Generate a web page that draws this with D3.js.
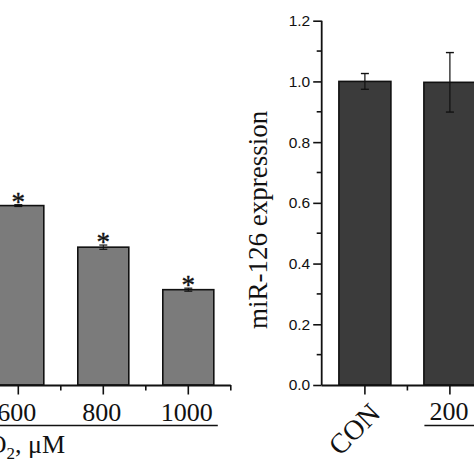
<!DOCTYPE html>
<html><head><meta charset="utf-8">
<script src="https://cdn.jsdelivr.net/npm/d3@7"></script>
<style>html,body{margin:0;padding:0;background:#fff;}svg{display:block;}</style>
</head><body>
<script>
// ---- data ----
const leftCats = ["600", "800", "1000"];
const leftValues = [59.1, 45.4, 31.4];
const leftErrors = [0.3, 0.7, 0.5];
const leftSig = ["*", "*", "*"];
const rightCats = ["CON", "200"];
const rightValues = [1.0, 0.997];
const rightErrors = [0.026, 0.098];
const rightTicks = [0.0, 0.2, 0.4, 0.6, 0.8, 1.0, 1.2];
const rightMinorTicks = [0.1, 0.3, 0.5, 0.7, 0.9, 1.1];
const leftGroupLabel = ["H", "2", "O", "2", ", μM"];
const rightYTitle = "miR-126 expression";

const W = 474, H = 474;
const serif = "'Liberation Serif','Times New Roman',serif";
const sans = "'Liberation Sans',Arial,sans-serif";

const svg = d3.select("body").append("svg").attr("width", W).attr("height", H);

const y0 = 385, yTop = 20.7;
const yLeft = d3.scaleLinear().domain([0, 120]).range([y0, yTop]);
const yRight = d3.scaleLinear().domain([0, 1.2]).range([y0, yTop]);

const step = 85;
const xLeft = d3.scaleBand().domain(leftCats).range([-24.2, -24.2 + step * leftCats.length]);
const xRight = d3.scaleBand().domain(rightCats).range([322.4, 322.4 + step * rightCats.length]);
const barW = 51;

// ---------- LEFT PANEL ----------
const gL = svg.append("g");
gL.selectAll("rect").data(leftCats).join("rect")
  .attr("x", d => xLeft(d) + xLeft.bandwidth() / 2 - barW / 2)
  .attr("width", barW)
  .attr("y", (d, i) => yLeft(leftValues[i]))
  .attr("height", (d, i) => y0 - yLeft(leftValues[i]))
  .attr("fill", "#7b7b7b").attr("stroke", "#111").attr("stroke-width", 1.6);
// error bars
leftCats.forEach((d, i) => {
  const cx = xLeft(d) + xLeft.bandwidth() / 2;
  const t = yLeft(leftValues[i] + leftErrors[i]);
  const b = yLeft(leftValues[i] - leftErrors[i]);
  gL.append("line").attr("x1", cx).attr("x2", cx).attr("y1", t).attr("y2", b).attr("stroke", "#111").attr("stroke-width", 1);
  gL.append("line").attr("x1", cx - 4).attr("x2", cx + 4).attr("y1", t).attr("y2", t).attr("stroke", "#111").attr("stroke-width", 1.2);
  gL.append("line").attr("x1", cx - 4).attr("x2", cx + 4).attr("y1", b).attr("y2", b).attr("stroke", "#111").attr("stroke-width", 1.2);
  gL.append("text").attr("x", cx).attr("y", t + 6)
    .attr("text-anchor", "middle").attr("font-family", serif).attr("font-size", 27)
    .attr("fill", "#111").attr("stroke", "#111").attr("stroke-width", 0.4).text(leftSig[i]);
});
// axis
const axLeft = xLeft.range();
gL.append("line").attr("x1", axLeft[0] - 40).attr("x2", axLeft[1]).attr("y1", y0 + 0.5).attr("y2", y0 + 0.5)
  .attr("stroke", "#111").attr("stroke-width", 1.8);
leftCats.forEach(d => {
  const cx = xLeft(d) + xLeft.bandwidth() / 2;
  gL.append("line").attr("x1", cx).attr("x2", cx).attr("y1", y0).attr("y2", y0 + 9.5).attr("stroke", "#111").attr("stroke-width", 1.6);
  const bx = xLeft(d) + xLeft.bandwidth();
  gL.append("line").attr("x1", bx).attr("x2", bx).attr("y1", y0).attr("y2", y0 + 5.5).attr("stroke", "#111").attr("stroke-width", 1.6);
  gL.append("text").attr("x", cx - 1.5).attr("y", 421).attr("text-anchor", "middle")
    .attr("font-family", serif).attr("font-size", 26).attr("fill", "#111").text(d);
});
// group line
gL.append("line").attr("x1", -10).attr("x2", xLeft("1000") + xLeft.bandwidth() / 2 + barW / 2 + 4)
  .attr("y1", 425.5).attr("y2", 425.5).attr("stroke", "#111").attr("stroke-width", 1.6);
const glab = gL.append("text").attr("x", 65).attr("y", 453).attr("text-anchor", "end")
  .attr("font-family", serif).attr("font-size", 26).attr("fill", "#111");
leftGroupLabel.forEach((s, i) => {
  const sub = (s === "2");
  glab.append("tspan").attr("font-size", sub ? 17 : 26)
    .attr("dy", sub ? 6 : (i > 0 ? -6 : 0)).text(s);
});

// ---------- RIGHT PANEL ----------
const gR = svg.append("g");
gR.selectAll("rect").data(rightCats).join("rect")
  .attr("x", d => xRight(d) + xRight.bandwidth() / 2 - barW / 2 - 0.5)
  .attr("width", barW + 1)
  .attr("y", (d, i) => yRight(rightValues[i]))
  .attr("height", (d, i) => y0 - yRight(rightValues[i]))
  .attr("fill", "#3b3b3b").attr("stroke", "#111").attr("stroke-width", 1.6);
rightCats.forEach((d, i) => {
  const cx = xRight(d) + xRight.bandwidth() / 2;
  const t = yRight(rightValues[i] + rightErrors[i]);
  const b = yRight(rightValues[i] - rightErrors[i]);
  gR.append("line").attr("x1", cx).attr("x2", cx).attr("y1", t).attr("y2", b).attr("stroke", "#111").attr("stroke-width", 1.2);
  gR.append("line").attr("x1", cx - 4).attr("x2", cx + 4).attr("y1", t).attr("y2", t).attr("stroke", "#111").attr("stroke-width", 1.4);
  gR.append("line").attr("x1", cx - 4).attr("x2", cx + 4).attr("y1", b).attr("y2", b).attr("stroke", "#111").attr("stroke-width", 1.4);
});
// y axis
const axisX = xRight.range()[0] - 0.7;
const yAx = gR.append("g").attr("transform", `translate(${axisX},0)`)
  .call(d3.axisLeft(yRight).tickValues(rightTicks).tickFormat(d3.format(".1f")).tickSize(8.5).tickPadding(3));
yAx.select(".domain").attr("stroke", "#111").attr("stroke-width", 1.8).attr("d", `M0,${y0}V${yTop}`);
yAx.selectAll(".tick line").attr("stroke", "#111").attr("stroke-width", 1.6);
yAx.selectAll(".tick text").attr("font-family", sans).attr("font-size", 15.5).attr("fill", "#111");
gR.selectAll(".minor").data(rightMinorTicks).join("line").attr("class", "minor")
  .attr("x1", axisX - 5).attr("x2", axisX).attr("y1", d => yRight(d)).attr("y2", d => yRight(d))
  .attr("stroke", "#111").attr("stroke-width", 1.6);
// x axis
gR.append("line").attr("x1", axisX).attr("x2", W + 10).attr("y1", y0 + 0.5).attr("y2", y0 + 0.5)
  .attr("stroke", "#111").attr("stroke-width", 1.8);
rightCats.forEach((d, i) => {
  const cx = xRight(d) + xRight.bandwidth() / 2;
  gR.append("line").attr("x1", cx).attr("x2", cx).attr("y1", y0).attr("y2", y0 + 9.5).attr("stroke", "#111").attr("stroke-width", 1.6);
  const bx = xRight(d) + xRight.bandwidth();
  gR.append("line").attr("x1", bx).attr("x2", bx).attr("y1", y0).attr("y2", y0 + 5.5).attr("stroke", "#111").attr("stroke-width", 1.6);
  if (i === 0) {
    gR.append("text").attr("transform", `translate(${cx + 17},${y0 + 30}) rotate(-45)`)
      .attr("text-anchor", "end").attr("font-family", serif).attr("font-size", 28).attr("fill", "#111").text(d);
  } else {
    gR.append("text").attr("x", cx - 1).attr("y", 420).attr("text-anchor", "middle")
      .attr("font-family", serif).attr("font-size", 26).attr("fill", "#111").text(d);
  }
});
// group line under 200
gR.append("line").attr("x1", xRight("200") + xRight.bandwidth() / 2 - barW / 2).attr("x2", W + 10)
  .attr("y1", 425.5).attr("y2", 425.5).attr("stroke", "#111").attr("stroke-width", 1.6);
// y title
gR.append("text").attr("transform", `translate(267,${(y0 + yTop) / 2 + 17}) rotate(-90)`)
  .attr("text-anchor", "middle").attr("font-family", serif).attr("font-size", 27).attr("fill", "#111")
  .text(rightYTitle);
</script>
</body></html>
